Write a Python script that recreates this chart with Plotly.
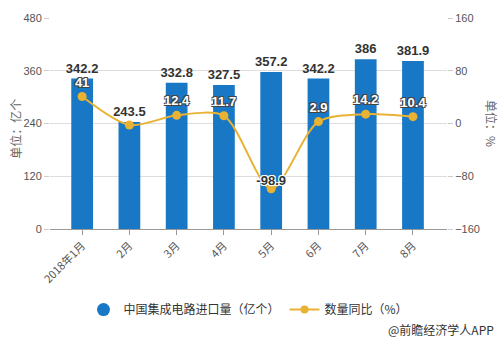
import plotly.graph_objects as go

months = ["2018年1月", "2月", "3月", "4月", "5月", "6月", "7月", "8月"]
import_vol = [342.2, 243.5, 332.8, 327.5, 357.2, 342.2, 386, 381.9]
yoy = [41, -2.2, 12.4, 11.7, -98.9, 2.9, 14.2, 10.4]
yoy_labels = ["41", "", "12.4", "11.7", "", "2.9", "14.2", "10.4"]
dark_labels = ["", "", "", "", "-98.9", "", "", ""]
bar_name = "中国集成电路进口量（亿个）"
line_name = "数量同比（%）"

BLUE = "#1878C6"
GOLD = "#EAB232"
FONT = "Liberation Sans, Noto Sans CJK SC"
CJK = "Noto Sans CJK SC"

x_idx = list(range(len(months)))

fig = go.Figure()

fig.add_trace(go.Bar(
    x=x_idx, y=import_vol, width=0.46, marker=dict(color=BLUE, line=dict(width=0)),
    text=[f"{v:g}" for v in import_vol], textposition="outside", constraintext="none",
    textfont=dict(family=FONT, size=13, color="#333333", weight="bold"),
    cliponaxis=False, showlegend=False, name=bar_name,
))

fig.add_trace(go.Scatter(
    x=x_idx, y=yoy, yaxis="y2", mode="lines+markers+text",
    line=dict(color=GOLD, width=2, shape="spline", smoothing=0.8),
    marker=dict(color=GOLD, size=9),
    text=yoy_labels, textposition="top center",
    textfont=dict(family=FONT, size=13, color="#ffffff", weight="bold",
                  shadow="1px 1px 0 #444, -1px -1px 0 #444, 1px -1px 0 #444, -1px 1px 0 #444"),
    cliponaxis=False, showlegend=False, name=line_name,
))

fig.add_trace(go.Scatter(
    x=x_idx, y=yoy, yaxis="y2", mode="text",
    text=dark_labels, textposition="top center",
    textfont=dict(family=FONT, size=13, color="#333333", weight="bold",
                  shadow="1px 1px 0 #fff, -1px -1px 0 #fff, 1px -1px 0 #fff, -1px 1px 0 #fff"),
    cliponaxis=False, showlegend=False, hoverinfo="skip",
))

# legend entries
fig.add_trace(go.Scatter(x=[None], y=[None], mode="markers", name=bar_name,
                         marker=dict(color=BLUE, size=13, symbol="circle")))
fig.add_trace(go.Scatter(x=[None], y=[None], mode="lines+markers", name=line_name,
                         line=dict(color=GOLD, width=2), marker=dict(color=GOLD, size=8)))

fig.update_layout(
    width=501, height=342,
    margin=dict(l=50, r=54, t=12, b=113),
    paper_bgcolor="white", plot_bgcolor="white",
    font=dict(family=CJK, size=11, color="#555555"),
    xaxis=dict(
        range=[-0.68, 7.72], tickmode="array", tickvals=x_idx, ticktext=months,
        tickangle=-45, showgrid=False, showline=True, linecolor="#999999", linewidth=1,
        ticks="outside", ticklen=5, tickcolor="#999999", zeroline=False,
        tickfont=dict(family=CJK, size=11, color="#555555"),
    ),
    yaxis=dict(
        range=[0, 480], dtick=120, showgrid=True, gridcolor="#dddddd", gridwidth=1,
        zeroline=False, showline=False, ticks="outside", ticklen=5, tickcolor="#cccccc",
        tickfont=dict(family=FONT, size=11, color="#555555"),
    ),
    yaxis2=dict(
        range=[-160, 160], dtick=80, overlaying="y", side="right", showgrid=False,
        zeroline=False, showline=False, ticks="outside", ticklen=5, tickcolor="#cccccc",
        tickfont=dict(family=FONT, size=11, color="#555555"),
    ),
    legend=dict(
        orientation="h", x=0.5, xanchor="center", y=-0.382, yanchor="middle",
        font=dict(family=CJK, size=12, color="#333333"),
        itemwidth=30, bgcolor="rgba(0,0,0,0)",
    ),
    annotations=[
        dict(text="单位：亿个", xref="paper", yref="paper", x=-0.112, y=0.475,
             textangle=-90, showarrow=False, font=dict(family=CJK, size=12, color="#666666")),
        dict(text="单位：%", xref="paper", yref="paper", x=1.14, y=0.502,
             textangle=90, showarrow=False, font=dict(family=CJK, size=12, color="#666666")),
        dict(text="@前瞻经济学人APP", xref="paper", yref="paper", x=1.124, xanchor="right",
             y=-0.475, yanchor="middle", showarrow=False,
             font=dict(family=CJK, size=12, color="#333333")),
    ],
)

fig.write_html("out.html")
